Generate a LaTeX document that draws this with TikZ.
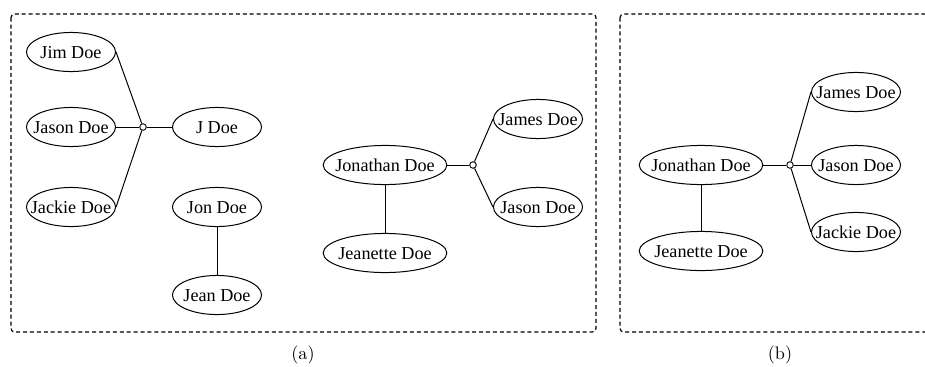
\documentclass[tikz,border=0pt]{standalone}
\usepackage{fontspec}
\usepackage{tikz}
\usetikzlibrary{shapes.geometric}

\newfontfamily\namefont{Liberation Serif}
% fixed-size ellipse: text takes no room
\newcommand{\who}[1]{\makebox[0pt]{\raisebox{-0.33em}[0pt][0pt]{\namefont #1}}}

\begin{document}
\begin{tikzpicture}[x=0.55pt, y=-0.55pt,
  person/.style={ellipse, draw, line width=0.55pt, inner sep=0pt,
                 minimum width=49pt, minimum height=21.5pt},
  wide/.style={person, minimum width=68pt},
  hub/.style={circle, draw, fill=white, line width=0.5pt, inner sep=0pt, minimum size=3.6pt},
  link/.style={line width=0.55pt},
  panel/.style={line width=0.65pt, black, rounded corners=2pt, dash pattern=on 2.2pt off 1.6pt}]

  \clip (0,0) rectangle (925,366);

  % Panels
  \draw[panel] (11,14) rectangle (596,332);
  \draw[panel] (620,14) rectangle (960,332);

  % (a) first group
  \node[person] (jim)    at (71,52)   {\who{Jim Doe}};
  \node[person] (jasonA) at (71,127)  {\who{Jason Doe}};
  \node[person] (jackA)  at (71,207)  {\who{Jackie Doe}};
  \node[hub]    (hubA)   at (143,127) {};
  \node[person] (jdoe)   at (217,127) {\who{J Doe}};

  \draw[link] (jim.east)    -- (hubA);
  \draw[link] (jasonA.east) -- (hubA);
  \draw[link] (jackA.east)  -- (hubA);
  \draw[link] (hubA)        -- (jdoe.west);

  % (a) second group
  \node[person] (jon)  at (217,207) {\who{Jon Doe}};
  \node[person] (jean) at (217,295) {\who{Jean Doe}};
  \draw[link] (jon) -- (jean);

  % (a) third group
  \node[wide]   (jonA)   at (385,165) {\who{Jonathan Doe}};
  \node[wide]   (jeanA)  at (385,253) {\who{Jeanette Doe}};
  \node[hub]    (hubB)   at (473,165) {};
  \node[person] (jamesA) at (538,119) {\who{James Doe}};
  \node[person] (jasonB) at (538,207) {\who{Jason Doe}};

  \draw[link] (jonA) -- (jeanA);
  \draw[link] (jonA.east) -- (hubB);
  \draw[link] (hubB) -- (jamesA.west);
  \draw[link] (hubB) -- (jasonB.west);

  % (b)
  \node[wide]   (jonB)   at (701,165) {\who{Jonathan Doe}};
  \node[wide]   (jeanB)  at (701,251) {\who{Jeanette Doe}};
  \node[hub]    (hubC)   at (790,165) {};
  \node[person] (jamesB) at (856,92)  {\who{James Doe}};
  \node[person] (jasonC) at (856,165) {\who{Jason Doe}};
  \node[person] (jackB)  at (856,232) {\who{Jackie Doe}};

  \draw[link] (jonB) -- (jeanB);
  \draw[link] (jonB.east) -- (hubC);
  \draw[link] (hubC) -- (jamesB.west);
  \draw[link] (hubC) -- (jasonC.west);
  \draw[link] (hubC) -- (jackB.west);

  % captions
  \node (capA) at (303,355) {(a)};
  \node (capB) at (780,355) {(b)};
\end{tikzpicture}
\end{document}
